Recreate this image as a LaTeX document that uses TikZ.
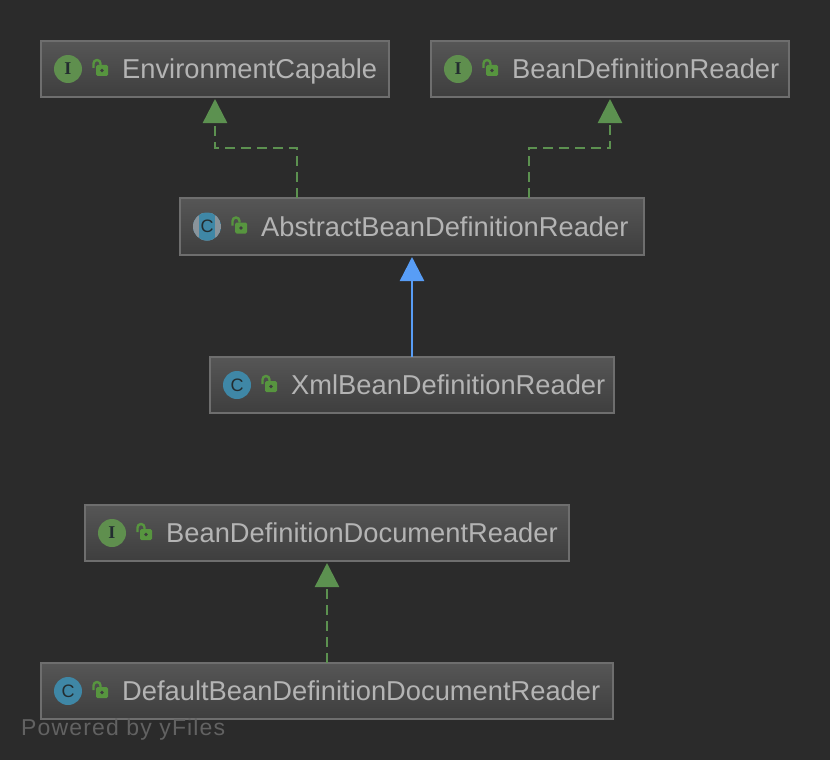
\documentclass[tikz,border=0pt]{standalone}
\usepackage{fontspec}
\setmainfont{Liberation Sans}
\newfontfamily\badgeserif{Liberation Serif}
\usetikzlibrary{arrows.meta,calc}
\definecolor{bgc}{HTML}{2B2B2B}
\definecolor{edgec}{HTML}{6E6E6E}
\definecolor{ifacegreen}{HTML}{5F8F4E}
\definecolor{lockgreen}{HTML}{57953F}
\definecolor{classblue}{HTML}{3F87A6}
\definecolor{labelc}{HTML}{B4B4B4}
\definecolor{implgreen}{HTML}{5C9150}
\definecolor{extblue}{HTML}{589DF6}
\definecolor{boxtop}{HTML}{565656}
\definecolor{boxbot}{HTML}{3E3E3E}
\definecolor{glyphc}{HTML}{232D30}
\definecolor{sidegray}{HTML}{8A949B}
\definecolor{footc}{HTML}{626262}
\tikzset{
  x=1pt,y=-1pt,
  umlbox/.style={draw=edgec,line width=2pt,top color=boxtop,bottom color=boxbot,
    anchor=north west,inner sep=0pt,outer sep=0pt},
  umltext/.style={anchor=base west,inner sep=0pt,text=labelc,font=\fontsize{27.3}{30}\selectfont},
  kindbadge/.style={circle,minimum size=28pt,inner sep=0pt},
  glyph/.style={inner sep=0pt,text=glyphc,font=\fontsize{18}{20}\selectfont},
  ifaceglyph/.style={inner sep=0pt,text=glyphc,font=\fontsize{18}{20}\selectfont\badgeserif\bfseries},
  implarrow/.style={implgreen,line width=2.4pt,dash pattern=on 10pt off 6pt,
    -{Triangle[length=24pt,width=24pt,fill=implgreen]},shorten >=2pt},
  extarrow/.style={extblue,line width=2.4pt,
    -{Triangle[length=24pt,width=24pt,fill=extblue]},shorten >=2pt},
  lockpart/.style={lockgreen},
}
\newcommand{\umlnode}[7]{%
  \node[umlbox,minimum width=#4pt-#2pt,minimum height=#5pt-#3pt] (#1) at (#2,#3) {};
  \node[umltext] (#1t) at ($(#1.west)+(81,9.5)$) {#7};
  \node[kindbadge,fill=#6] (#1b) at ($(#1.west)+(27,0)$) {};
  \begin{scope}[shift={(#1.west)}]
    \fill[lockpart,rounded corners=1.5pt] (55,-4) rectangle (67,7);
    \draw[lockpart,line width=2.4pt] (52.5,-1) -- (52.5,-5.5) arc[start angle=180,end angle=0,x radius=3.5,y radius=-3.5] -- (59.5,-4);
    \fill[boxbot] (61,1.5) circle (1.8);
  \end{scope}
}
\begin{document}
\begin{tikzpicture}
\useasboundingbox (0,0) rectangle (830,760);
\fill[bgc] (0,0) rectangle (830,760);

\umlnode{ec}{41}{41}{389}{97}{ifacegreen}{EnvironmentCapable}
\umlnode{bdr}{431}{41}{789}{97}{ifacegreen}{BeanDefinitionReader}
\umlnode{abr}{180}{198}{644}{255}{classblue}{AbstractBeanDefinitionReader}
\umlnode{xml}{210}{357}{614}{413}{classblue}{XmlBeanDefinitionReader}
\umlnode{bddr}{85}{505}{569}{561}{ifacegreen}{BeanDefinitionDocumentReader}
\umlnode{dbddr}{41}{663}{613}{719}{classblue}{DefaultBeanDefinitionDocumentReader}

\node[ifaceglyph] (eci) at (ecb) {I};
\node[ifaceglyph] (bdri) at (bdrb) {I};
\node[ifaceglyph] (bddri) at (bddrb) {I};
\begin{scope}
  \clip (abrb) circle (14);
  \fill[sidegray] ($(abrb)+(-14,-14)$) rectangle ($(abrb)+(14,14)$);
  \fill[classblue] ($(abrb)+(-8,-14)$) rectangle ($(abrb)+(8,14)$);
\end{scope}
\node[glyph] (abrc) at (abrb) {C};
\node[glyph] (xmlc) at (xmlb) {C};
\node[glyph] (dbddrc) at (dbddrb) {C};

\coordinate (bendl) at (297,148);
\coordinate (bendr) at (529,148);
\draw[implarrow] ([xshift=-115pt]abr.north) -- (bendl) -- (ec.south |- bendl) -- (ec.south);
\draw[implarrow] ([xshift=117pt]abr.north) -- (bendr) -- (bdr.south |- bendr) -- (bdr.south);
\draw[extarrow] (xml.north) -- (xml.north |- abr.south);
\draw[implarrow] (dbddr.north -| bddr.south) -- (bddr.south);

\node[anchor=base west,inner sep=0pt,text=footc,font=\fontsize{23}{26}\selectfont\addfontfeature{LetterSpace=5}] (pw) at (21,735) {Powered by yFiles};
\end{tikzpicture}
\end{document}
